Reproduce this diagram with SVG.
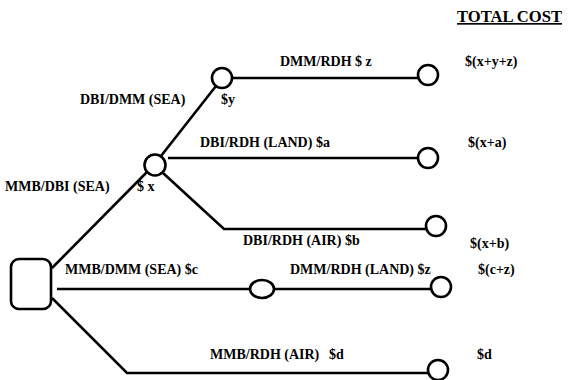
<svg xmlns="http://www.w3.org/2000/svg" width="568" height="380" viewBox="0 0 568 380">
  <style>
    .lbl { font-family: "Liberation Serif", "Times New Roman", serif; font-weight: bold; font-size: 14px; fill: #000; }
    .hdr { font-family: "Liberation Serif", "Times New Roman", serif; font-weight: bold; font-size: 16.6px; fill: #000; text-decoration: underline; }
    .edge { stroke: #000; stroke-width: 2.6; fill: none; stroke-linecap: butt; stroke-linejoin: miter; }
    .node { stroke: #000; stroke-width: 2.6; fill: #fff; }
  </style>
  <rect width="568" height="380" fill="#fff"/>

  <text class="hdr" x="457" y="22">TOTAL COST</text>

  <!-- connectors -->
  <g id="connectors">
    <line class="edge" x1="52" y1="268" x2="147" y2="172"/>
    <line class="edge" x1="161" y1="156" x2="216" y2="86"/>
    <line class="edge" x1="232" y1="78" x2="418" y2="78"/>
    <line class="edge" x1="168" y1="158" x2="418" y2="158"/>
    <polyline class="edge" points="163,173 224,229 426,229"/>
    <line class="edge" x1="57" y1="289" x2="250" y2="289"/>
    <line class="edge" x1="274" y1="289" x2="431" y2="289"/>
    <polyline class="edge" points="52,298 127,373 428,373"/>
  </g>

  <!-- decision node -->
  <g id="start">
    <rect class="node" x="11" y="259" width="40" height="50" rx="8"/>
  </g>

  <!-- chance nodes -->
  <g id="node-x"><circle class="node" cx="155" cy="165" r="10.5"/></g>
  <g id="node-y"><circle class="node" cx="222" cy="78" r="10"/></g>
  <g id="node-c"><ellipse class="node" cx="262" cy="289" rx="12" ry="9"/></g>

  <!-- end nodes -->
  <g id="end-xyz"><circle class="node" cx="428" cy="75" r="10"/></g>
  <g id="end-xa"><circle class="node" cx="428" cy="158" r="10"/></g>
  <g id="end-xb"><circle class="node" cx="436" cy="226" r="10"/></g>
  <g id="end-cz"><circle class="node" cx="441" cy="287" r="10"/></g>
  <g id="end-d"><circle class="node" cx="438" cy="370" r="10"/></g>

  <!-- edge labels -->
  <text class="lbl" x="280" y="66">DMM/RDH $ z</text>
  <text class="lbl" x="80" y="104">DBI/DMM (SEA)</text>
  <text class="lbl" x="221" y="104">$y</text>
  <text class="lbl" x="200" y="147">DBI/RDH (LAND) $a</text>
  <text class="lbl" x="5" y="191">MMB/DBI (SEA)</text>
  <text class="lbl" x="137" y="191">$ x</text>
  <text class="lbl" x="243" y="245">DBI/RDH (AIR) $b</text>
  <text class="lbl" x="65" y="274">MMB/DMM (SEA) $c</text>
  <text class="lbl" x="290" y="274">DMM/RDH (LAND) $z</text>
  <text class="lbl" x="210" y="359">MMB/RDH (AIR)</text>
  <text class="lbl" x="329" y="359">$d</text>

  <!-- totals -->
  <text class="lbl" x="465" y="66">$(x+y+z)</text>
  <text class="lbl" x="468" y="147">$(x+a)</text>
  <text class="lbl" x="470" y="248">$(x+b)</text>
  <text class="lbl" x="478" y="274">$(c+z)</text>
  <text class="lbl" x="477" y="359">$d</text>
</svg>
